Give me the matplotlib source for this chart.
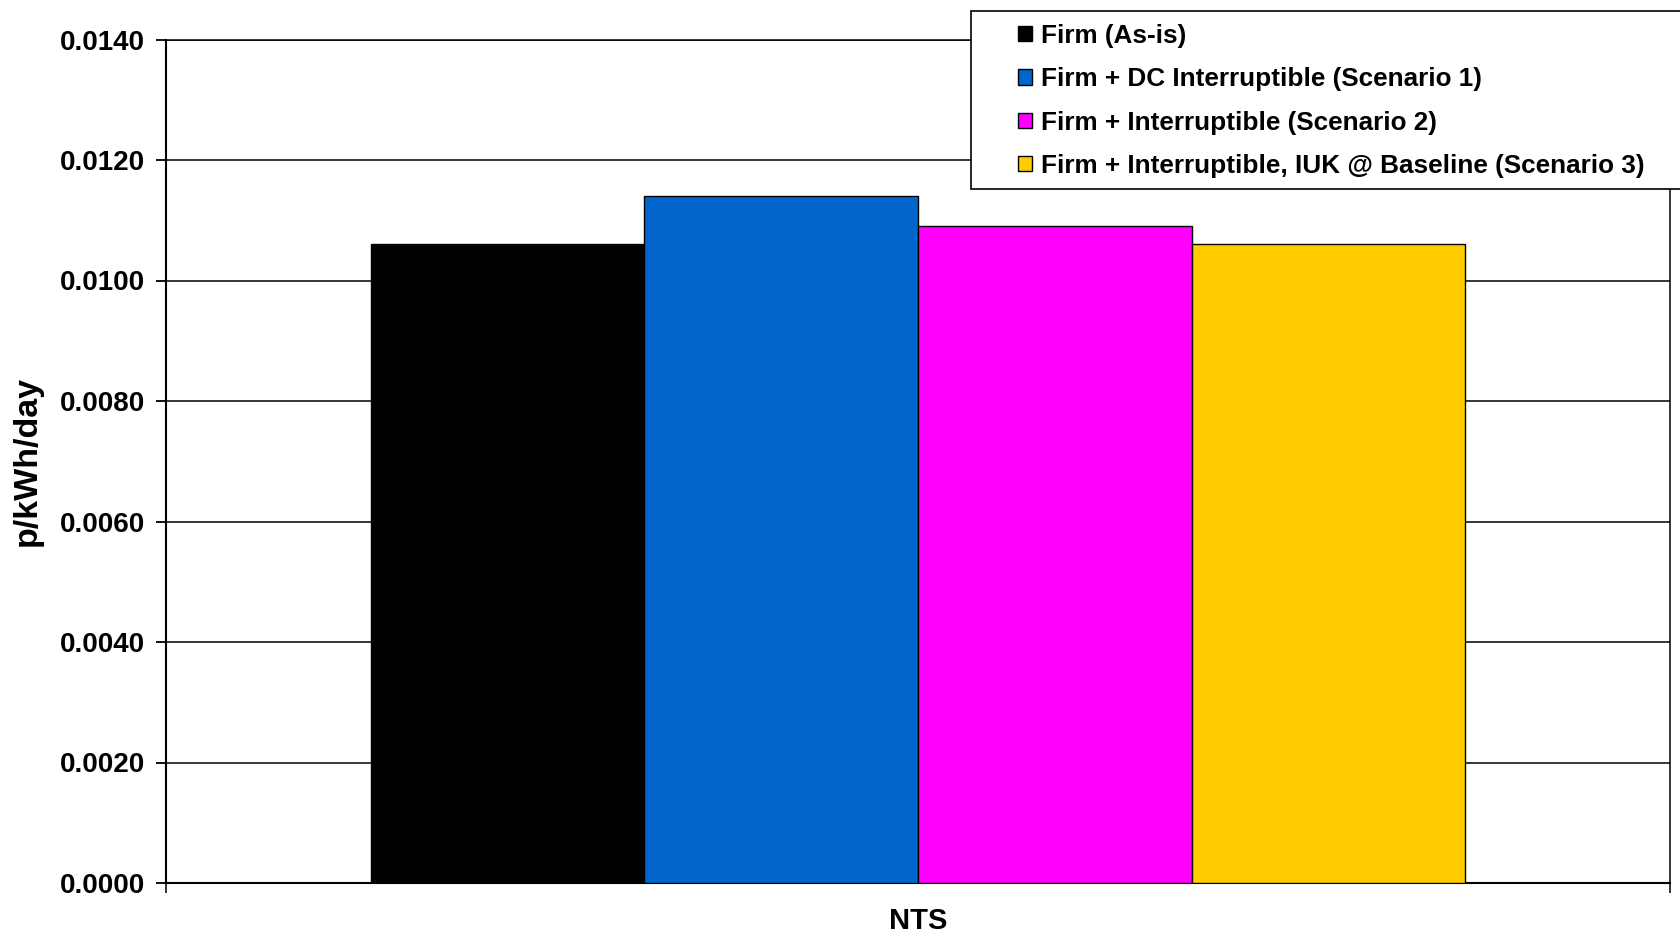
import matplotlib
matplotlib.use('Agg')
import numpy as np
import matplotlib.pyplot as plt
from matplotlib.patches import Rectangle

category = 'NTS'
scenarios = ['Firm (As-is)',
             'Firm + DC Interruptible (Scenario 1)',
             'Firm + Interruptible (Scenario 2)',
             'Firm + Interruptible, IUK @ Baseline (Scenario 3)']
values = [0.0106, 0.0114, 0.0109, 0.0106]
colours = ['#000000', '#0066CC', '#FF00FF', '#FFCC00']
yticks = [0.0, 0.002, 0.004, 0.006, 0.008, 0.010, 0.012, 0.014]

plt.rcParams['font.family'] = ['Liberation Sans', 'DejaVu Sans']
plt.rcParams['font.weight'] = 'bold'

fig = plt.figure(figsize=(16.81, 9.35), dpi=100)
ax = fig.add_axes([166 / 1681, 1 - 883 / 935, 1504 / 1681, (883 - 39.5) / 935])

width = 0.182
offsets = (np.arange(len(values)) - (len(values) - 1) / 2) * width
bars = []
for off, v, c, lab in zip(offsets, values, colours, scenarios):
    b = ax.bar(off, v, width=width, color=c, edgecolor='black', linewidth=1.0,
               label=lab, zorder=3)
    bars.append(b)

ax.set_xlim(-0.5, 0.5)
ax.set_ylim(0, 0.014)
ax.set_yticks(yticks)
ax.set_yticklabels(['{:.4f}'.format(t) for t in yticks], fontsize=20, fontweight='bold')
ax.yaxis.grid(True, color='black', linewidth=1.1, zorder=0)
ax.tick_params(axis='y', direction='out', length=7, width=1.3, pad=8)

ax.set_xticks([0])
ax.set_xticklabels([category], fontsize=21, fontweight='bold')
ax.set_xticks([-0.5, 0.5], minor=True)
ax.tick_params(axis='x', which='major', length=0, pad=17.5)
ax.tick_params(axis='x', which='minor', direction='out', length=7, width=1.1)

for s in ax.spines.values():
    s.set_linewidth(1.1)
ax.spines['left'].set_linewidth(1.5)
ax.spines['bottom'].set_linewidth(1.5)

ax.set_ylabel('p/kWh/day', fontsize=24.5, fontweight='bold')
ax.yaxis.set_label_coords(-0.0818, 0.5)

# legend box sits over the top right of the plot and runs off the edge
frame = Rectangle((971 / 1681, 1 - 188.7 / 935), 0.45, (188.7 - 10.7) / 935,
                  transform=fig.transFigure, facecolor='white', edgecolor='black',
                  linewidth=1.2, zorder=4)
fig.patches.append(frame)

handles = [b.patches[0] for b in bars]
fig.legend(handles, scenarios, loc='upper left',
           bbox_to_anchor=(1018 / 1681, 1 - 24 / 935),
           frameon=False, prop={'weight': 'bold', 'size': 18.8},
           handlelength=0.52, handleheight=0.52, handletextpad=0.36,
           labelspacing=0.74, borderpad=0.0, borderaxespad=0.0)

fig.savefig('out.png', dpi=100)
